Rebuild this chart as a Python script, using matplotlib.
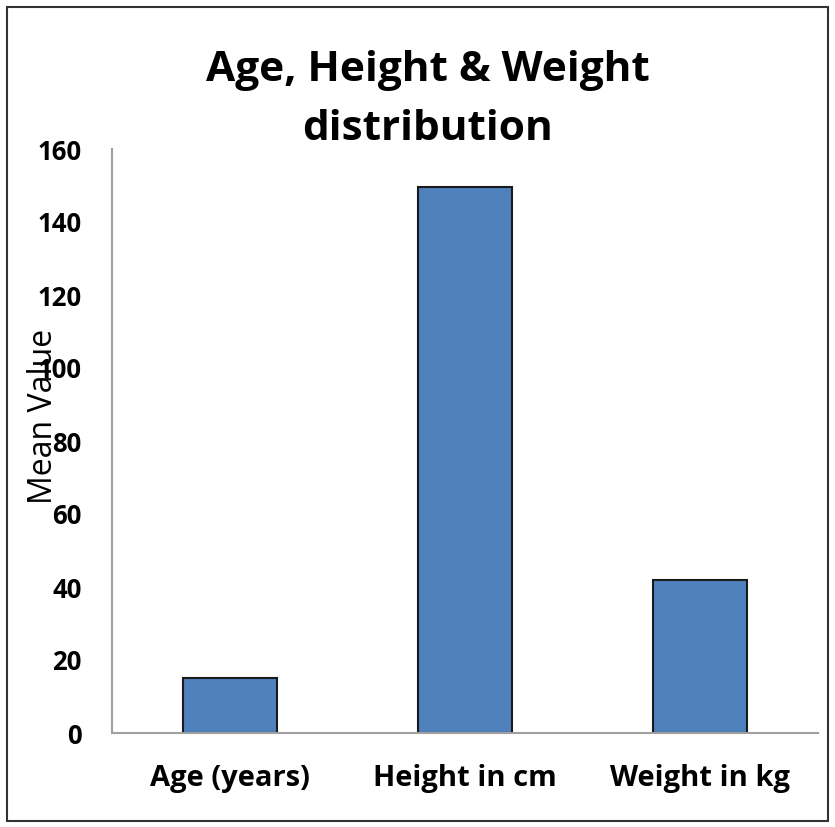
import matplotlib.pyplot as plt
from matplotlib.patches import Rectangle

categories = ['Age (years)', 'Height in cm', 'Weight in kg']
mean_values = [15, 149.5, 42]
y_ticks = [0, 20, 40, 60, 80, 100, 120, 140, 160]

plt.rcParams['font.family'] = ['Open Sans', 'DejaVu Sans']

fig = plt.figure(figsize=(8.35, 8.27), dpi=100)
W, H = 835, 827
ax = fig.add_axes([112 / W, 1 - 733 / H, (818 - 112) / W, (733 - 149) / H])

ax.bar(range(len(categories)), mean_values, width=0.4,
       color='#4f81bd', edgecolor='#1a1a1a', linewidth=1.5)

ax.set_xlim(-0.5, 2.5)
ax.set_ylim(0, 160)
ax.set_yticks(y_ticks)
ax.set_xticks(range(len(categories)))
ax.set_xticklabels(categories, fontsize=21, fontweight='bold')
ax.tick_params(axis='y', labelsize=18.5, length=0, pad=22)
ax.tick_params(axis='x', length=0, pad=22)
for lbl in ax.get_yticklabels():
    lbl.set_fontweight('bold')

for s in ['top', 'right']:
    ax.spines[s].set_visible(False)
for s in ['left', 'bottom']:
    ax.spines[s].set_color('#a0a0a0')
    ax.spines[s].set_linewidth(1.5)

# axis title sits over the tick labels, as in the original chart
fig.text(44 / W, 1 - 416 / H, 'Mean Value', rotation=90, fontsize=23,
         ha='center', va='center')
fig.text(428 / W, 1 - 100 / H, 'Age, Height & Weight\ndistribution',
         fontsize=30.5, fontweight='bold', ha='center', va='center',
         linespacing=1.6)

# chart border
fig.patches.append(Rectangle((7 / W, 1 - 821 / H), 821 / W, 814 / H,
                             transform=fig.transFigure, fill=False,
                             edgecolor='#333333', linewidth=1.5))

fig.savefig('out.png', dpi=100)
